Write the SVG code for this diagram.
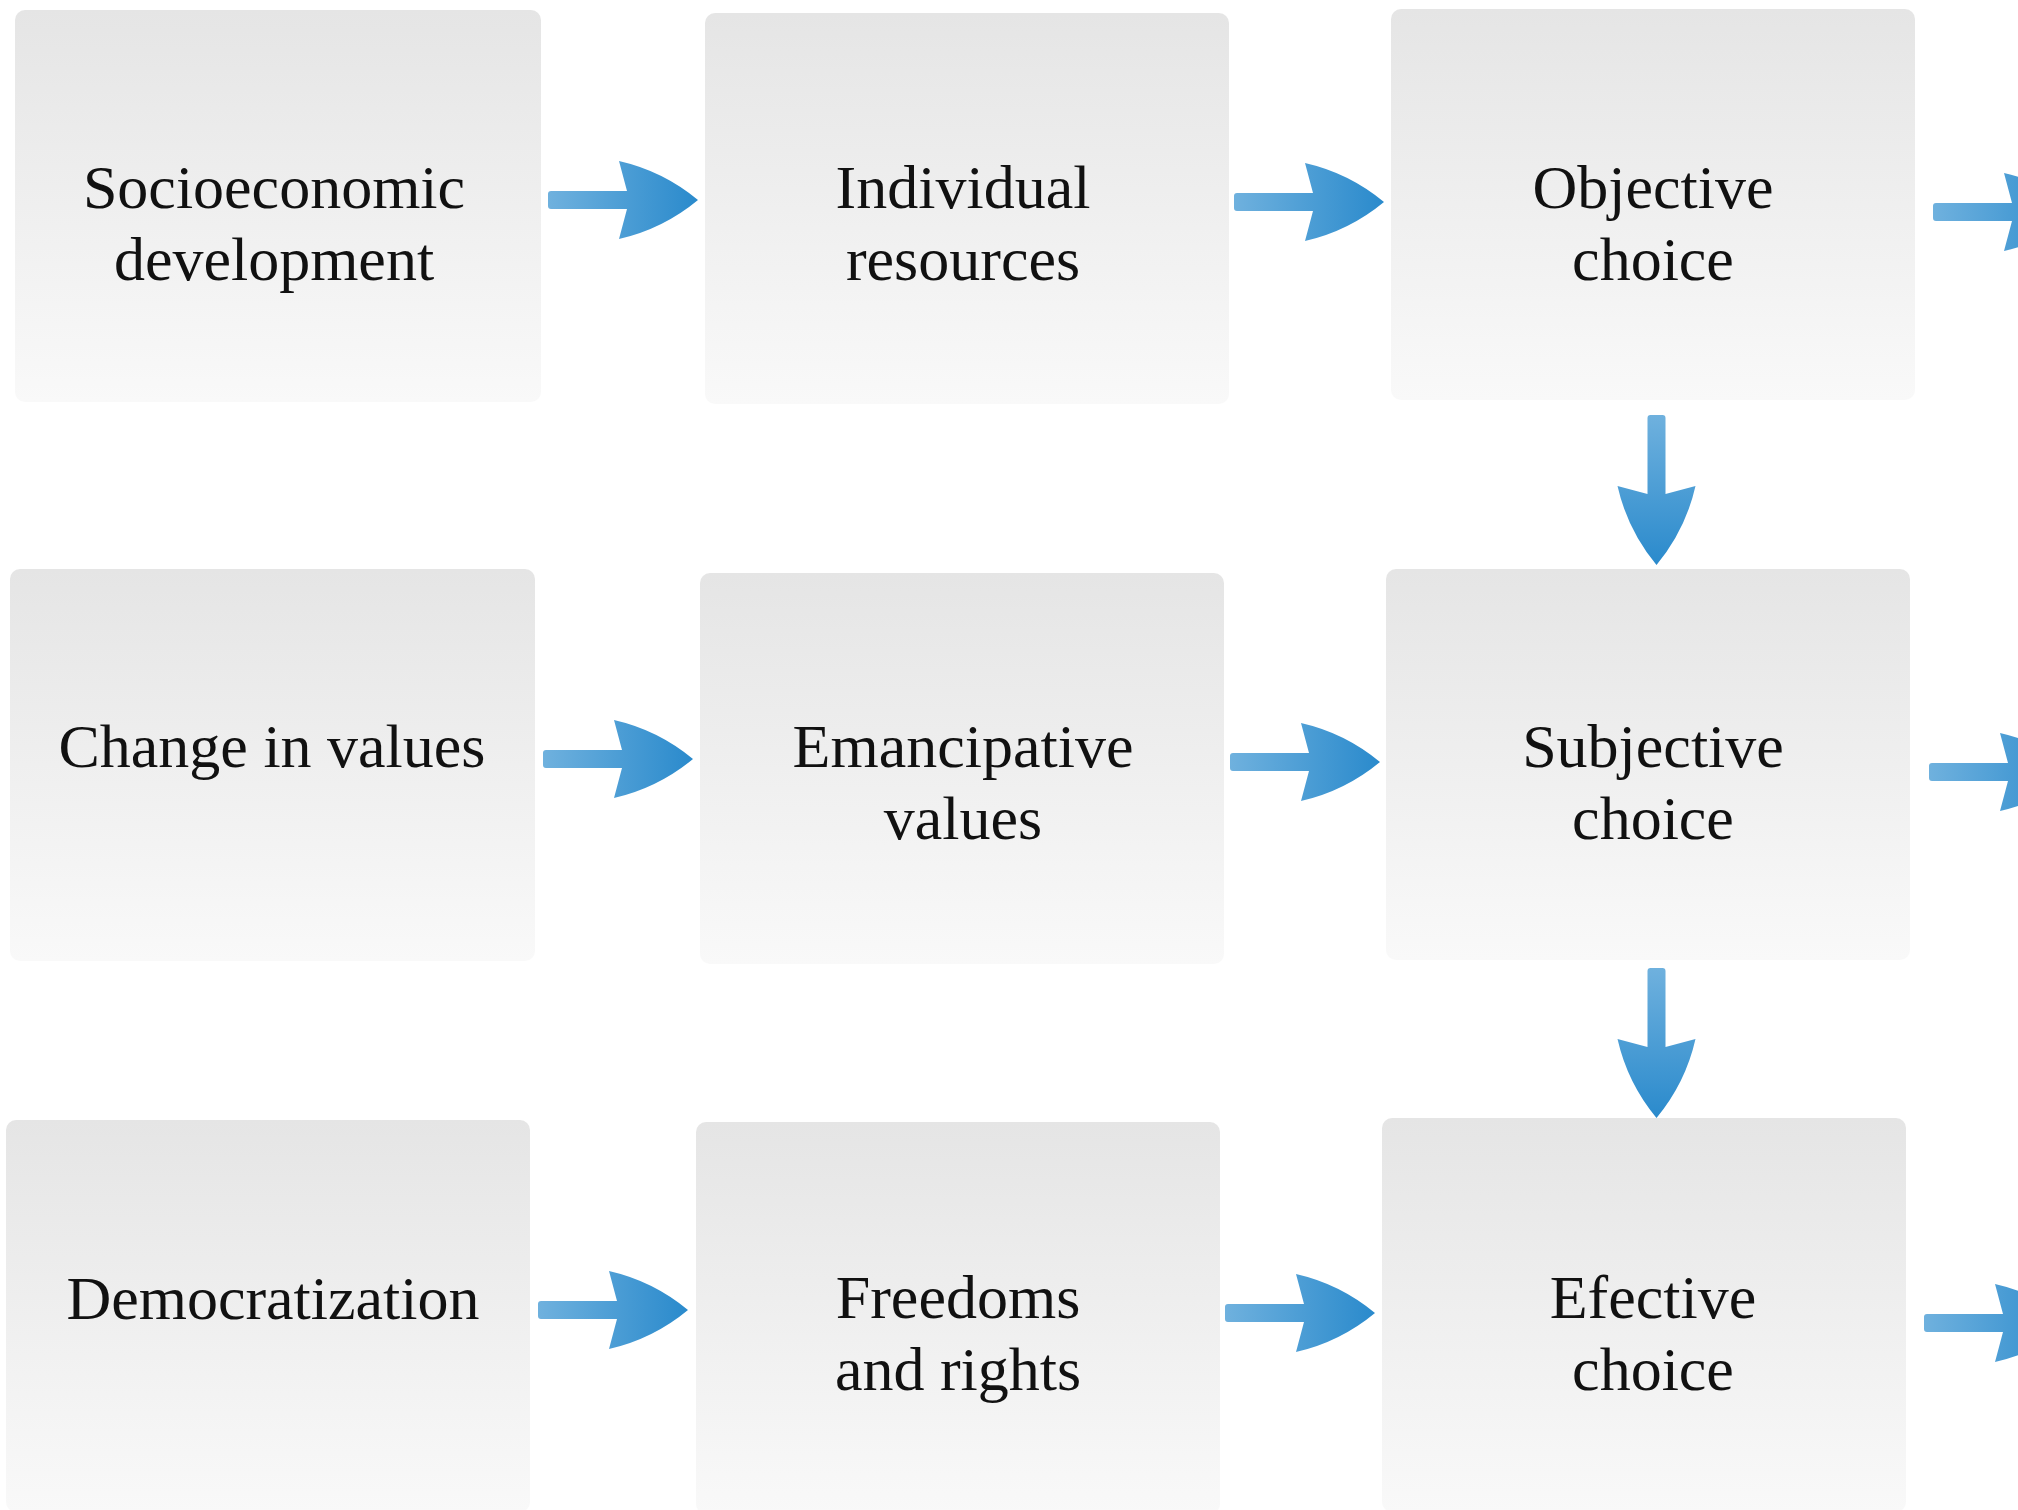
<svg xmlns="http://www.w3.org/2000/svg" xmlns:xlink="http://www.w3.org/1999/xlink" width="2018" height="1510" viewBox="0 0 2018 1510">
<style>
.box{fill:url(#boxg);}
.lbl{font-family:"Liberation Serif","DejaVu Serif",serif;font-size:62px;fill:#111;text-anchor:middle;}
</style>
<defs>
<linearGradient id="boxg" x1="0" y1="0" x2="0" y2="1">
<stop offset="0" stop-color="#e5e5e5"/>
<stop offset="1" stop-color="#f9f9f9"/>
</linearGradient>
<linearGradient id="arrg" x1="0" y1="0" x2="1" y2="0">
<stop offset="0" stop-color="#6fb1de"/>
<stop offset="1" stop-color="#2a8acc"/>
</linearGradient>
<path id="harrow" fill="url(#arrg)" d="M3,-9 L79,-9 L71,-39 Q115,-29 150,0 Q115,29 71,39 L79,9 L3,9 Q0,9 0,6 L0,-6 Q0,-9 3,-9 Z"/>
</defs>
<rect width="2018" height="1510" fill="#ffffff"/>
<g id="node-socioeconomic"><rect class="box" x="15" y="10" width="526" height="392" rx="10"/><text class="lbl" x="274" y="208">Socioeconomic</text><text class="lbl" x="274" y="280">development</text></g>
<g id="node-individual"><rect class="box" x="705" y="13" width="524" height="391" rx="10"/><text class="lbl" x="963" y="208">Individual</text><text class="lbl" x="963" y="280">resources</text></g>
<g id="node-objective"><rect class="box" x="1391" y="9" width="524" height="391" rx="10"/><text class="lbl" x="1653" y="208">Objective</text><text class="lbl" x="1653" y="280">choice</text></g>
<g id="node-change"><rect class="box" x="10" y="569" width="525" height="392" rx="10"/><text class="lbl" x="272" y="767">Change in values</text></g>
<g id="node-emancipative"><rect class="box" x="700" y="573" width="524" height="391" rx="10"/><text class="lbl" x="963" y="767">Emancipative</text><text class="lbl" x="963" y="839">values</text></g>
<g id="node-subjective"><rect class="box" x="1386" y="569" width="524" height="391" rx="10"/><text class="lbl" x="1653" y="767">Subjective</text><text class="lbl" x="1653" y="839">choice</text></g>
<g id="node-democratization"><rect class="box" x="6" y="1120" width="524" height="392" rx="10"/><text class="lbl" x="273" y="1319">Democratization</text></g>
<g id="node-freedoms"><rect class="box" x="696" y="1122" width="524" height="392" rx="10"/><text class="lbl" x="958" y="1318">Freedoms</text><text class="lbl" x="958" y="1390">and rights</text></g>
<g id="node-efective"><rect class="box" x="1382" y="1118" width="524" height="394" rx="10"/><text class="lbl" x="1653" y="1318">Efective</text><text class="lbl" x="1653" y="1390">choice</text></g>
<g id="connectors">
<use xlink:href="#harrow" transform="translate(548,200)"/>
<use xlink:href="#harrow" transform="translate(1234,202)"/>
<use xlink:href="#harrow" transform="translate(1933,212)"/>
<use xlink:href="#harrow" transform="translate(543,759)"/>
<use xlink:href="#harrow" transform="translate(1230,762)"/>
<use xlink:href="#harrow" transform="translate(1929,772)"/>
<use xlink:href="#harrow" transform="translate(538,1310)"/>
<use xlink:href="#harrow" transform="translate(1225,1313)"/>
<use xlink:href="#harrow" transform="translate(1924,1323)"/>
<use xlink:href="#harrow" transform="translate(1656.5,415) rotate(90)"/>
<use xlink:href="#harrow" transform="translate(1656.5,968) rotate(90)"/>
</g>
</svg>
